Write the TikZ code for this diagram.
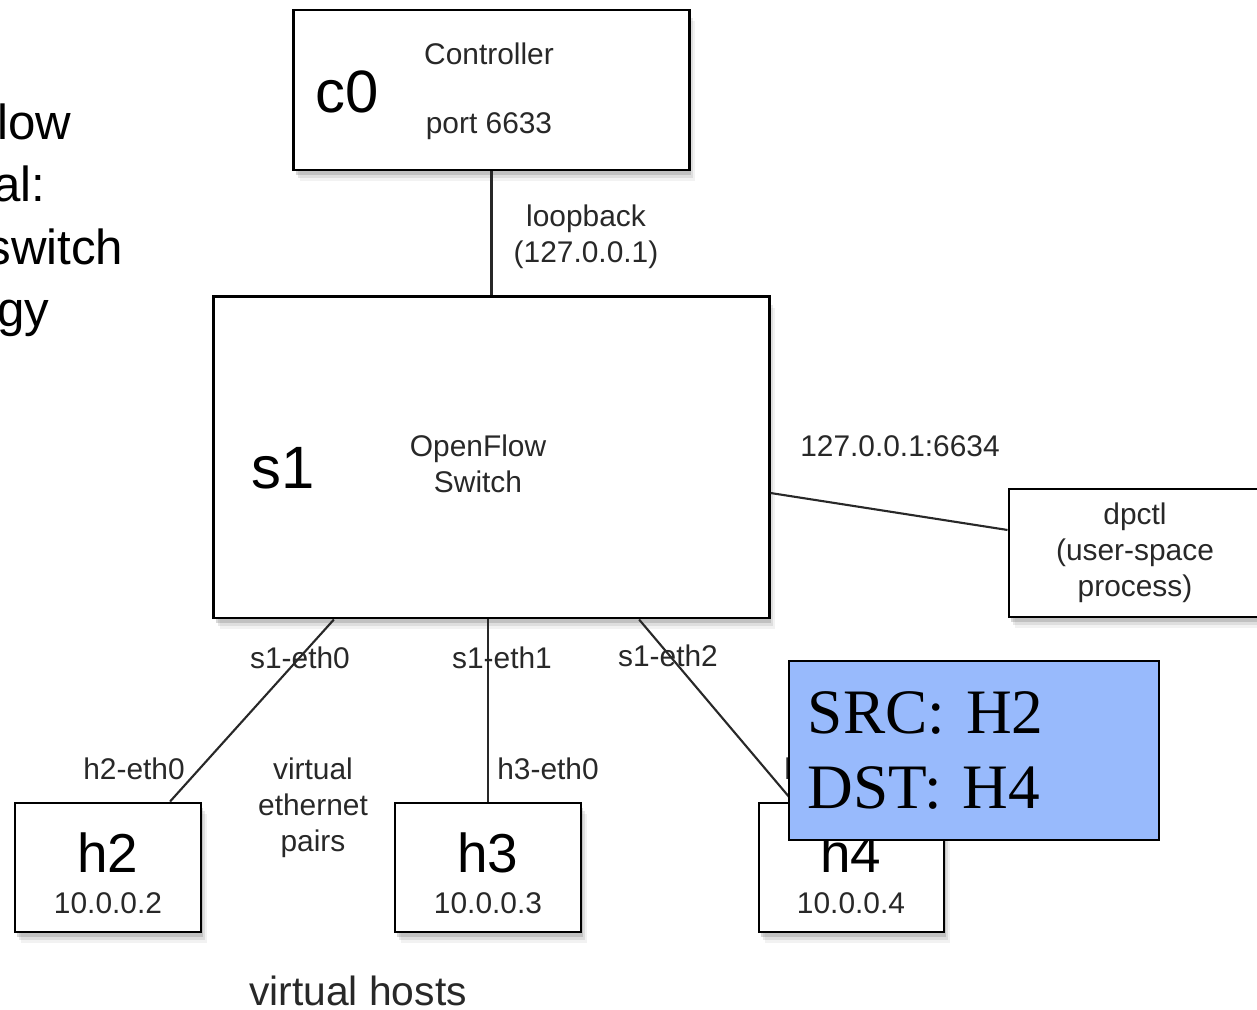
\documentclass[tikz,border=0pt]{standalone}
\usepackage{fontspec}
\setmainfont{Liberation Sans}
\newfontfamily\notefont{Liberation Serif}
\usetikzlibrary{shadows,positioning}
\definecolor{noteblue}{RGB}{152,186,252}
\definecolor{inkgray}{RGB}{40,40,40}

\tikzset{
  box/.style={draw, line width=0.8pt, fill=white, inner sep=0pt,
    drop shadow={shadow xshift=1.8pt, shadow yshift=-3.2pt, opacity=0.1},
    drop shadow={shadow xshift=1.2pt, shadow yshift=-2.3pt, opacity=0.18},
    drop shadow={shadow xshift=0.6pt, shadow yshift=-1.3pt, opacity=0.3}},
  link/.style={line width=0.6pt, inkgray},
  lbl/.style={font=\fontsize{8.5}{10.2}\selectfont, text=inkgray, inner sep=0pt, align=center},
  bigname/.style={font=\fontsize{17}{20}\selectfont, inner sep=0pt},
  hostname/.style={font=\fontsize{15.6}{18}\selectfont, inner sep=0pt},
  sidetext/.style={font=\fontsize{14}{17}\selectfont, inner sep=0pt, anchor=base east},
  note/.style={draw, line width=0.6pt, fill=noteblue, inner xsep=0.19cm, inner ysep=0pt,
    text width=3.32cm, minimum height=1.79cm, align=left,
    font=\notefont\fontsize{18}{21.3}\selectfont}
}

\begin{document}
\begin{tikzpicture}[x=0.01cm, y=-0.01cm]
  \useasboundingbox (0,0) rectangle (1257,1010);

  % title fragments, cut by the left edge
  \node[sidetext] (tl1) at (72,140) {low};
  \node[sidetext] (tl2) at (46,202) {al:};
  \node[sidetext] (tl3) at (124,265) {switch};
  \node[sidetext] (tl4) at (50,327) {gy};

  % boxes
  \node[box, minimum width=3.95cm, minimum height=1.6cm] (c0) at (491.5,90) {};
  \node[box, minimum width=5.55cm, minimum height=3.21cm] (s1) at (491.5,457.5) {};
  \node[box, minimum width=2.53cm, minimum height=1.28cm] (dp) at (1135.5,553) {};
  \node[box, minimum width=1.86cm, minimum height=1.29cm] (h2) at (108,867.5) {};
  \node[box, minimum width=1.86cm, minimum height=1.29cm] (h3) at (488,867.5) {};
  \node[box, minimum width=1.85cm, minimum height=1.29cm] (h4) at (851.5,867.5) {};

  % links
  \draw[link] (c0.south) -- (s1.north);
  \draw[link] ([yshift=-0.355cm]s1.east) -- ([yshift=0.23cm]dp.west);
  \draw[link] ([xshift=-1.575cm]s1.south) -- ([xshift=0.62cm]h2.north);
  \draw[link] (s1.south -| h3.north) -- (h3.north);
  \draw[link] ([xshift=1.475cm]s1.south) -- ([xshift=-0.585cm]h4.north);

  % box texts
  \node[bigname] (c0name) at (347,92) {c0};
  \node[lbl] (c0top) at (489,54) {Controller};
  \node[lbl] (c0port) at (489,126) {port 6633};
  \node[bigname] (s1name) at (283,468) {s1};
  \node[lbl] (s1text) at (478,464) {OpenFlow\\Switch};
  \node[lbl] (dptext) at (1135,553) {dpctl\\(user-space\\process)};
  \node[hostname] (h2name) at (108,853) {h2};
  \node[lbl] (h2ip) at (108,903) {10.0.0.2};
  \node[hostname] (h3name) at (488,853) {h3};
  \node[lbl] (h3ip) at (488,903) {10.0.0.3};
  \node[hostname] (h4name) at (851,853) {h4};
  \node[lbl] (h4ip) at (851,903) {10.0.0.4};

  % link labels
  \node[lbl] (lo) at (586,237) {loopback\\(127.0.0.1)};
  \node[lbl] (dpport) at (900,446) {127.0.0.1:6634};
  \node[lbl] (e0) at (300,658) {s1-eth0};
  \node[lbl] (e1) at (502,658) {s1-eth1};
  \node[lbl] (e2) at (668,656) {s1-eth2};
  \node[lbl] (h2e) at (134,769) {h2-eth0};
  \node[lbl] (h3e) at (548,769) {h3-eth0};
  \node[lbl] (h4e) at (835,769) {h4-eth0};
  \node[lbl] (pairs) at (313,808) {virtual\\ethernet\\pairs};
  \node[lbl, font=\fontsize{11.6}{14}\selectfont] (hosts) at (358,991) {virtual hosts};

  % flow note
  \node[note] (flow) at (974,750.5) {SRC: H2\\DST: H4};
\end{tikzpicture}
\end{document}
